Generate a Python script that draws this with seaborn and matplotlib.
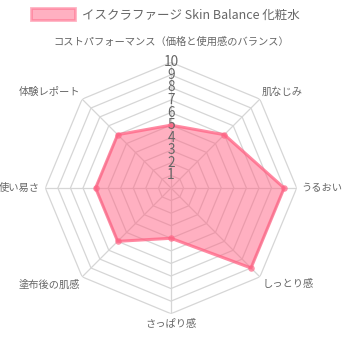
import numpy as np
import matplotlib
matplotlib.use("Agg")
import matplotlib.pyplot as plt
import seaborn as sns
from matplotlib.patches import Patch

sns.set_theme(style="white")
plt.rcParams['font.family'] = ['Noto Sans CJK JP', 'DejaVu Sans']

categories = ["コストパフォーマンス（価格と使用感のバランス）", "肌なじみ", "うるおい", "しっとり感",
              "さっぱり感", "塗布後の肌感", "使い易さ", "体験レポート"]
values = [5, 6, 9, 9, 4, 6, 6, 6]
series_name = "イスクラファージ Skin Balance 化粧水"
tick_levels = [1, 2, 3, 4, 5, 6, 7, 8, 9, 10]

fill_color = "#ff6384"
grid_color = "#d6d6d6"
text_color = "#666666"

fig = plt.figure(figsize=(3.43, 3.43), dpi=100)
R = 125.7
cx, cy = 171, 188
ax = fig.add_axes([(cx - R) / 343, (343 - cy - R) / 343, 2 * R / 343, 2 * R / 343], projection="polar")
ax.set_theta_zero_location("N")
ax.set_theta_direction(-1)
ax.set_rlim(0, 10)
ax.grid(False)
ax.spines['polar'].set_visible(False)
ax.set_xticks([])
ax.set_yticks([])
ax.patch.set_alpha(0)

n = len(categories)
angles = np.linspace(0, 2 * np.pi, n, endpoint=False)
closed = np.concatenate([angles, angles[:1]])

for lv in tick_levels:
    ax.plot(closed, [lv] * (n + 1), color=grid_color, lw=0.9, zorder=1)
for a in angles:
    ax.plot([a, a], [0, 10], color=grid_color, lw=0.9, zorder=1)

vals = np.array(values + values[:1], dtype=float)
ax.fill(closed, vals, color=fill_color, alpha=0.5, lw=0, zorder=2)
ax.plot(closed, vals, color=fill_color, lw=2.2, alpha=0.75, zorder=3)
ax.scatter(angles, values, s=22, color=fill_color, alpha=0.7, zorder=4, lw=0)

for lv in tick_levels:
    ax.text(0, lv, str(lv), ha="center", va="center", fontsize=9.8, color=text_color, zorder=5)

# point labels
specs = [
    (0, 11.2, "center", "bottom"),
    (1, 10.25, "left", "bottom"),
    (2, 10.4, "left", "center"),
    (3, 10.25, "left", "top"),
    (4, 10.4, "center", "top"),
    (5, 10.25, "right", "top"),
    (6, 10.4, "right", "center"),
    (7, 10.25, "right", "bottom"),
]
for i, r, ha, va in specs:
    ax.text(angles[i], r, categories[i], ha=ha, va=va, fontsize=7.4, color=text_color)

handle = Patch(facecolor=fill_color, alpha=0.5, edgecolor=fill_color, linewidth=2)
fig.legend([handle], [series_name], loc="center", bbox_to_anchor=(0.4825, 0.956),
           frameon=False, fontsize=9, handlelength=3.5, handleheight=1.1,
           labelcolor=text_color, handletextpad=0.6)

fig.savefig("out.png", dpi=100)
